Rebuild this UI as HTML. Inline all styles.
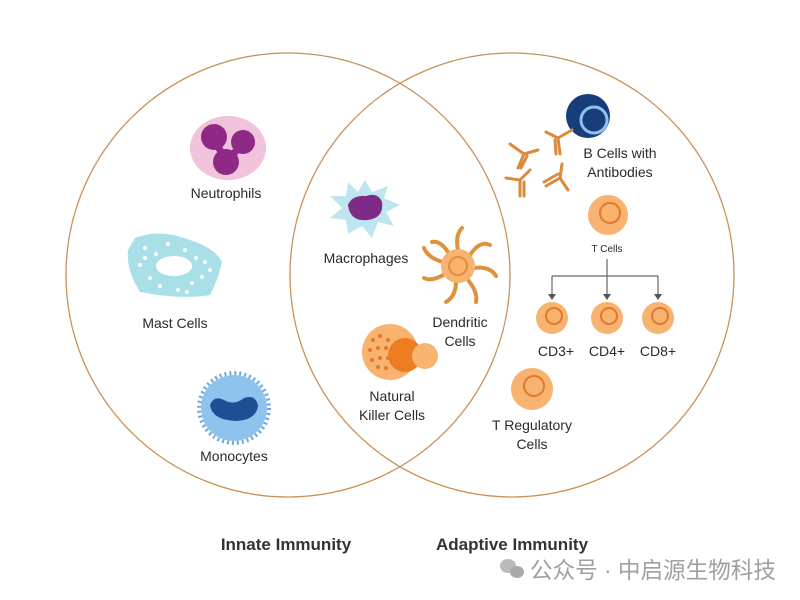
<!DOCTYPE html>
<html><head><meta charset="utf-8"><style>
body{margin:0;background:#fff;}
svg{display:block;}
text{font-family:"Liberation Sans","Noto Sans CJK SC",sans-serif;fill:#2a2a2a;}
</style></head><body>
<svg width="800" height="600" viewBox="0 0 800 600" xmlns="http://www.w3.org/2000/svg">
<rect width="800" height="600" fill="#fff"/>
<circle cx="288" cy="275" r="222" fill="none" stroke="#c8915a" stroke-width="1.3"/>
<circle cx="512" cy="275" r="222" fill="none" stroke="#c8915a" stroke-width="1.3"/>

<!-- Neutrophil -->
<ellipse cx="228" cy="148" rx="38" ry="32" fill="#f1c2dc"/>
<circle cx="214" cy="137" r="13" fill="#8e2a86"/>
<circle cx="243" cy="142" r="12" fill="#8e2a86"/>
<circle cx="226" cy="162" r="13" fill="#8e2a86"/>
<path d="M214 140 L226 160 L243 145" stroke="#8e2a86" stroke-width="7" fill="none"/>
<text x="226" y="198" font-size="14" text-anchor="middle">Neutrophils</text>

<!-- Mast cell -->
<path d="M135 238 Q160 228 190 240 Q215 248 222 262 Q218 280 210 295 Q180 300 140 292 Q126 270 128 250 Z" fill="#a9dfe6"/>
<ellipse cx="174" cy="266" rx="18" ry="10" fill="#fff"/>
<g fill="#fff">
<circle cx="145" cy="248" r="2"/><circle cx="156" cy="254" r="2"/><circle cx="168" cy="244" r="2"/><circle cx="185" cy="250" r="2"/><circle cx="196" cy="258" r="2"/><circle cx="205" cy="262" r="2"/><circle cx="140" cy="265" r="2"/><circle cx="150" cy="278" r="2"/><circle cx="160" cy="286" r="2"/><circle cx="178" cy="290" r="2"/><circle cx="192" cy="283" r="2"/><circle cx="202" cy="277" r="2"/><circle cx="210" cy="270" r="2"/><circle cx="145" cy="258" r="2"/><circle cx="187" cy="292" r="2"/>
</g>
<text x="175" y="328" font-size="14" text-anchor="middle">Mast Cells</text>

<!-- Monocyte -->
<circle cx="234" cy="408" r="35" fill="none" stroke="#6ea8de" stroke-width="4" stroke-dasharray="2 3"/>
<circle cx="234" cy="408" r="33" fill="#8ec3ee"/>
<path d="M210 405 Q214 395 224 400 Q234 406 244 398 Q256 394 258 406 Q256 420 236 421 Q212 420 210 405 Z" fill="#1e4f94"/>
<text x="234" y="461" font-size="14" text-anchor="middle">Monocytes</text>

<!-- Macrophage -->
<polygon points="365,180 372,192 388,186 384,198 400,205 386,212 394,226 378,222 372,238 362,226 348,234 346,220 330,218 342,208 330,196 346,196 348,182 358,192" fill="#bfe6ef"/>
<path d="M348 205 Q352 195 366 196 Q378 192 382 202 Q384 218 368 220 Q350 222 348 205 Z" fill="#7f2a87"/>
<text x="366" y="263" font-size="14" text-anchor="middle">Macrophages</text>

<!-- Dendritic -->
<g stroke="#e0913e" stroke-width="4" fill="none" stroke-linecap="round">
<path d="M458 250 Q455 235 462 228"/>
<path d="M470 255 Q480 240 490 245"/>
<path d="M474 268 Q490 266 496 276"/>
<path d="M468 280 Q478 292 476 302"/>
<path d="M456 282 Q456 296 446 302"/>
<path d="M445 274 Q432 282 424 278"/>
<path d="M443 262 Q428 258 424 248"/>
<path d="M448 252 Q440 240 432 242"/>
</g>
<circle cx="458" cy="266" r="17" fill="#f7b36f"/>
<circle cx="458" cy="266" r="9" fill="none" stroke="#e0913e" stroke-width="2"/>
<text x="460" y="327" font-size="14" text-anchor="middle">Dendritic</text>
<text x="460" y="346" font-size="14" text-anchor="middle">Cells</text>

<!-- NK -->
<circle cx="390" cy="352" r="28" fill="#f7b36f"/>
<circle cx="405" cy="355" r="17" fill="#ee7d22"/>
<circle cx="425" cy="356" r="13" fill="#f7b36f"/>
<g fill="#e0792a">
<circle cx="373" cy="340" r="2"/><circle cx="380" cy="336" r="2"/><circle cx="388" cy="340" r="2"/><circle cx="370" cy="350" r="2"/><circle cx="378" cy="348" r="2"/><circle cx="386" cy="348" r="2"/><circle cx="372" cy="360" r="2"/><circle cx="380" cy="358" r="2"/><circle cx="388" cy="358" r="2"/><circle cx="378" cy="367" r="2"/><circle cx="386" cy="368" r="2"/>
</g>
<text x="392" y="401" font-size="14" text-anchor="middle">Natural</text>
<text x="392" y="420" font-size="14" text-anchor="middle">Killer Cells</text>

<!-- B cell -->
<circle cx="588" cy="116" r="22" fill="#173d7a"/>
<circle cx="594" cy="120" r="13" fill="none" stroke="#8fc2ee" stroke-width="3"/>
<g stroke="#d98a3a" stroke-width="3" fill="none" stroke-linecap="round">
<path d="M572 130 L558 138 M558 138 L546 132 M558 138 L560 154 M555 140 L556 154"/>
<path d="M510 144 L524 154 M524 154 L538 150 M524 154 L518 168 M527 156 L521 168"/>
<path d="M506 178 L520 180 M520 180 L530 170 M520 180 L520 196 M524 182 L524 196"/>
<path d="M562 164 L560 178 M560 178 L568 190 M560 178 L546 186 M558 174 L544 182"/>
</g>
<text x="620" y="158" font-size="14" text-anchor="middle">B Cells with</text>
<text x="620" y="177" font-size="14" text-anchor="middle">Antibodies</text>

<!-- T cells -->
<g fill="#f7b36f"><circle cx="608" cy="215" r="20"/><circle cx="552" cy="318" r="16"/><circle cx="607" cy="318" r="16"/><circle cx="658" cy="318" r="16"/><circle cx="532" cy="389" r="21"/></g>
<g fill="none" stroke="#e0792a" stroke-width="2"><circle cx="610" cy="213" r="10"/><circle cx="554" cy="316" r="8"/><circle cx="609" cy="316" r="8"/><circle cx="660" cy="316" r="8"/><circle cx="534" cy="386" r="10"/></g>
<text x="607" y="252" font-size="10" text-anchor="middle">T Cells</text>
<g stroke="#666" stroke-width="1.2" fill="none">
<path d="M607 259 V297 M552 276 H658 M552 276 V296 M658 276 V296"/>
</g>
<g fill="#555"><path d="M548 294 H556 L552 300 Z"/><path d="M603 294 H611 L607 300 Z"/><path d="M654 294 H662 L658 300 Z"/></g>
<text x="556" y="356" font-size="14" text-anchor="middle">CD3+</text>
<text x="607" y="356" font-size="14" text-anchor="middle">CD4+</text>
<text x="658" y="356" font-size="14" text-anchor="middle">CD8+</text>
<text x="532" y="430" font-size="14" text-anchor="middle">T Regulatory</text>
<text x="532" y="449" font-size="14" text-anchor="middle">Cells</text>

<text x="286" y="550" font-size="17" font-weight="600" text-anchor="middle" style="fill:#333">Innate Immunity</text>
<text x="512" y="550" font-size="17" font-weight="600" text-anchor="middle" style="fill:#333">Adaptive Immunity</text>

<!-- watermark -->
<ellipse cx="508" cy="566" rx="8" ry="7" fill="#bbb"/>
<ellipse cx="517" cy="572" rx="7" ry="6" fill="#aaa"/>
<text x="530" y="578" font-size="23" textLength="246" lengthAdjust="spacingAndGlyphs" style="fill:#a0a0a0">公众号 · 中启源生物科技</text>
</svg>
</body></html>
